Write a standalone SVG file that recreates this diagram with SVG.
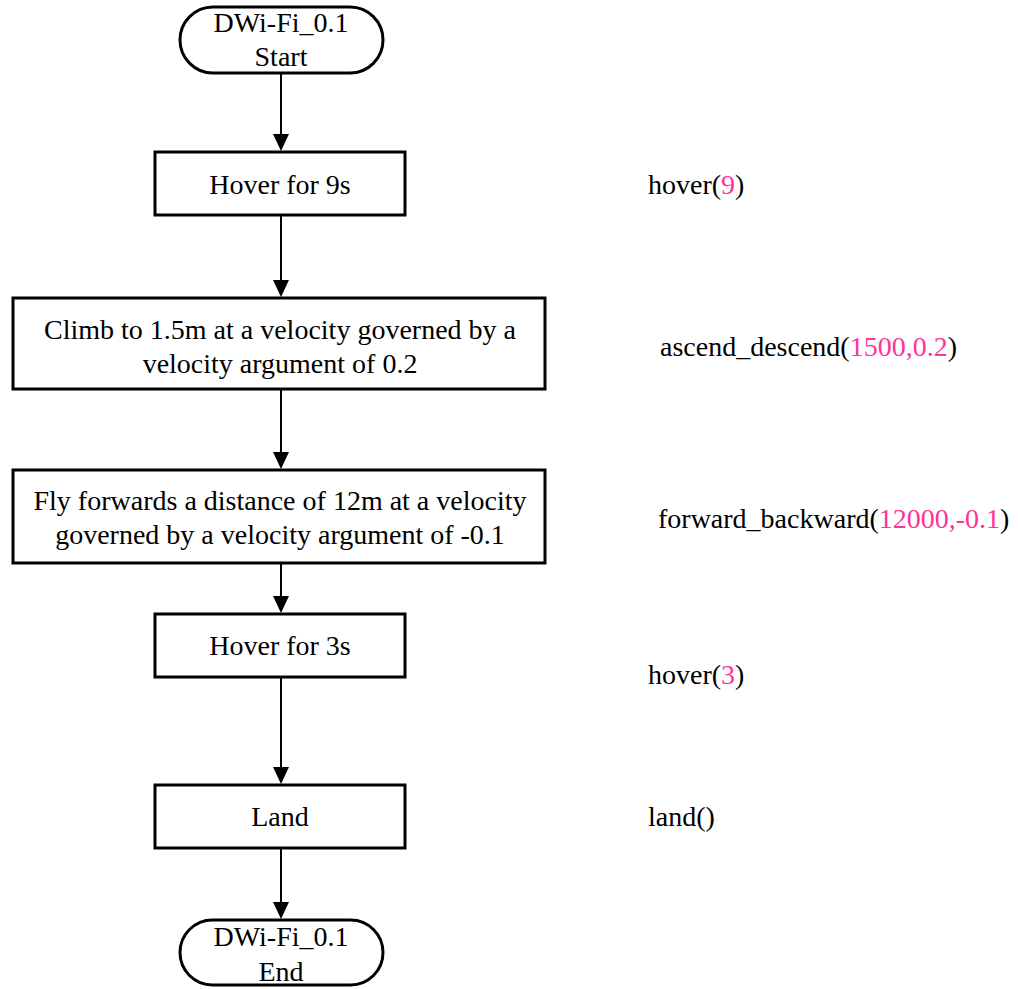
<svg xmlns="http://www.w3.org/2000/svg" width="1018" height="989" viewBox="0 0 1018 989">
  <style>
    .shape { fill: #ffffff; stroke: #000000; stroke-width: 3; }
    .lbl { font-family: 'Liberation Serif', 'Times New Roman', Times, serif; font-size: 28px; fill: #000000; text-anchor: middle; }
    .code { font-family: 'Liberation Serif', 'Times New Roman', Times, serif; font-size: 28px; fill: #000000; }
    .arg { fill: #ff3399; }
    .wire { stroke: #000000; stroke-width: 2; fill: none; }
    .head { fill: #000000; }
  </style>
  <rect width="1018" height="989" fill="#ffffff"/>

  <!-- connectors: vertical wires with solid arrowheads -->
  <g id="connectors">
    <path class="wire" d="M281,74 V140"/>
    <path class="head" d="M273,134 L289,134 L281,151 Z"/>
    <path class="wire" d="M281,216 V286"/>
    <path class="head" d="M273,280 L289,280 L281,297 Z"/>
    <path class="wire" d="M281,390 V458"/>
    <path class="head" d="M273,452 L289,452 L281,469 Z"/>
    <path class="wire" d="M281,564 V602"/>
    <path class="head" d="M273,596 L289,596 L281,613 Z"/>
    <path class="wire" d="M281,678 V773"/>
    <path class="head" d="M273,767 L289,767 L281,784 Z"/>
    <path class="wire" d="M281,849 V908"/>
    <path class="head" d="M273,902 L289,902 L281,919 Z"/>
  </g>

  <!-- flow nodes -->
  <g id="start">
    <rect class="shape" x="180" y="7" width="203" height="66" rx="33" ry="33"/>
    <text class="lbl" x="281" y="32">DWi-Fi_0.1</text>
    <text class="lbl" x="281" y="66">Start</text>
  </g>
  <g id="hover9">
    <rect class="shape" x="155" y="152" width="250" height="63"/>
    <text class="lbl" x="280" y="194">Hover for 9s</text>
  </g>
  <g id="climb">
    <rect class="shape" x="13" y="298" width="532" height="91"/>
    <text class="lbl" x="280" y="339">Climb to 1.5m at a velocity governed by a</text>
    <text class="lbl" x="280" y="373">velocity argument of 0.2</text>
  </g>
  <g id="forward">
    <rect class="shape" x="13" y="470" width="532" height="93"/>
    <text class="lbl" x="280" y="510">Fly forwards a distance of 12m at a velocity</text>
    <text class="lbl" x="280" y="544">governed by a velocity argument of -0.1</text>
  </g>
  <g id="hover3">
    <rect class="shape" x="155" y="614" width="250" height="63"/>
    <text class="lbl" x="280" y="655">Hover for 3s</text>
  </g>
  <g id="land">
    <rect class="shape" x="155" y="785" width="250" height="63"/>
    <text class="lbl" x="280" y="826">Land</text>
  </g>
  <g id="end">
    <rect class="shape" x="180" y="920" width="203" height="65" rx="32.5" ry="32.5"/>
    <text class="lbl" x="281" y="946">DWi-Fi_0.1</text>
    <text class="lbl" x="281" y="981">End</text>
  </g>

  <!-- command listing -->
  <g id="commands">
    <text class="code" x="648" y="194">hover(<tspan class="arg">9</tspan>)</text>
    <text class="code" x="660" y="356">ascend_descend(<tspan class="arg">1500,0.2</tspan>)</text>
    <text class="code" x="658" y="528">forward_backward(<tspan class="arg">12000,-0.1</tspan>)</text>
    <text class="code" x="648" y="684">hover(<tspan class="arg">3</tspan>)</text>
    <text class="code" x="648" y="826">land()</text>
  </g>
</svg>
